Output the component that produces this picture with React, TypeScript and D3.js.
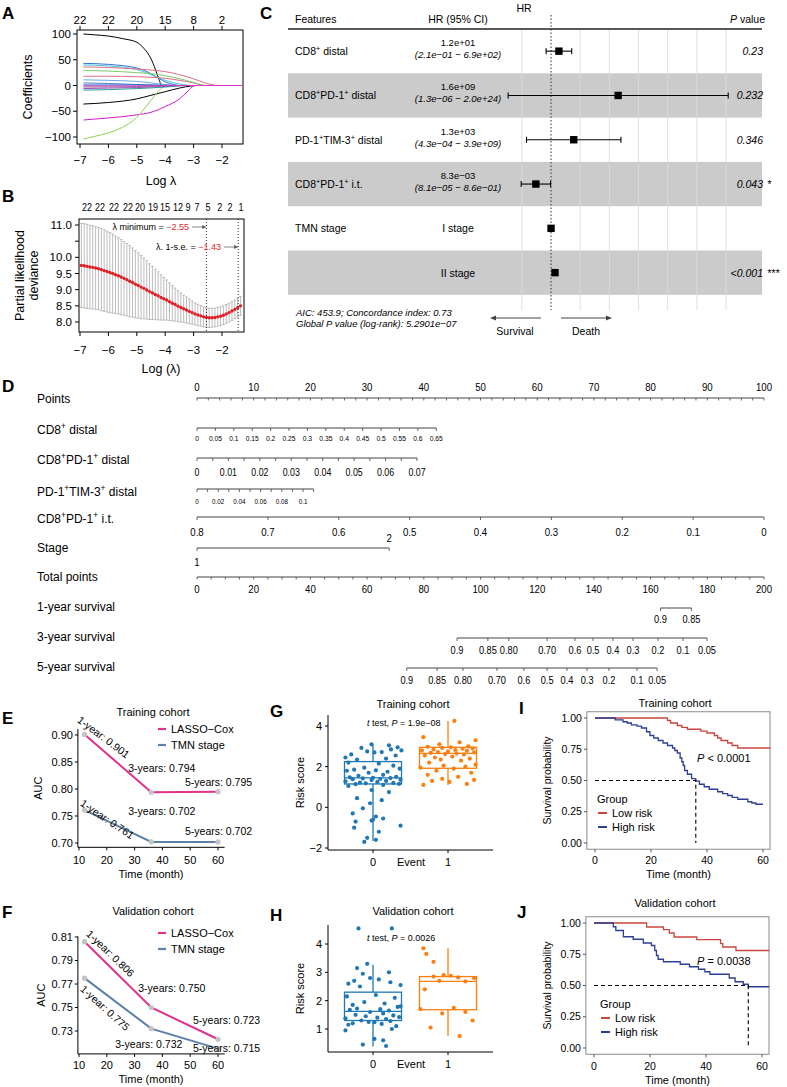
import React from "react";
import * as d3 from "d3";

const FONT = "'Liberation Sans', Arial, Helvetica, sans-serif";

// ---------------- Panel A data ----------------
const coefTopDf = ["22", "22", "20", "15", "8", "2"];
const coefTopAt = [-7, -6, -5, -4, -3, -2];
const coefXTicks = [-7, -6, -5, -4, -3, -2];
const coefYTicks = [100, 50, 0, -50, -100];
const coefColors = ["#000000", "#000000", "#d21ed2", "#8fd14f", "#3b6fd4", "#3fc6e0", "#d9737f", "#e06a8a", "#7cc96a", "#6fa8e8", "#4d7fc4", "#8a8a8a", "#9b4fbf", "#2aa198", "#1d5fd0", "#e033c0"];
const coefPaths = [
  [[-6.88, 100], [-6.5, 98.5], [-6, 96], [-5.5, 91], [-5, 84], [-4.75, 72], [-4.5, 52], [-4.35, 32], [-4.22, 12], [-4.12, 0], [-1.3, 0]],
  [[-6.88, -36], [-6, -33], [-5, -26], [-4.5, -19], [-4, -12], [-3.5, -5], [-3.1, -1], [-2.95, 0], [-1.3, 0]],
  [[-6.88, -67], [-6, -63], [-5, -57], [-4.5, -52], [-4, -41], [-3.5, -26], [-3.2, -11], [-3.0, -1], [-2.9, 0], [-1.3, 0]],
  [[-6.88, -104], [-6.5, -99], [-6, -92], [-5.5, -81], [-5, -62], [-4.75, -46], [-4.5, -29], [-4.25, -12], [-4.05, -2], [-3.95, 0], [-1.3, 0]],
  [[-6.88, 43], [-6, 41], [-5, 34], [-4.5, 23], [-4.2, 13], [-4, 7], [-3.7, 2], [-3.5, 0], [-1.3, 0]],
  [[-6.88, 40], [-6, 38], [-5, 31], [-4.5, 21], [-4, 10], [-3.5, 3], [-3.2, 0.5], [-3, 0], [-1.3, 0]],
  [[-6.88, 36], [-6, 35], [-5, 32], [-4.5, 30], [-4, 27], [-3.5, 21], [-3, 13], [-2.6, 5], [-2.3, 1], [-2.1, 0], [-1.3, 0]],
  [[-6.88, 18], [-6, 18], [-5, 17], [-4.5, 16], [-4, 14], [-3.5, 10], [-3, 5], [-2.7, 1], [-2.6, 0], [-1.3, 0]],
  [[-6.88, 29], [-6, 28], [-5, 25], [-4.5, 23], [-4, 19], [-3.5, 13], [-3, 6], [-2.7, 1], [-2.6, 0], [-1.3, 0]],
  [[-6.88, 11], [-6, 10], [-5, 8], [-4.5, 5], [-4, 2], [-3.6, 0], [-1.3, 0]],
  [[-6.88, 5], [-6, 4], [-5, 2], [-4.5, 1], [-4, 0], [-1.3, 0]],
  [[-6.88, -3], [-6, -3], [-5, -2], [-4, -1], [-3.5, 0], [-1.3, 0]],
  [[-6.88, -6], [-6, -5], [-5, -4], [-4, -2], [-3.2, 0], [-1.3, 0]],
  [[-6.88, -9], [-6, -8], [-5, -6], [-4, -3], [-3.3, 0], [-1.3, 0]],
  [[-6.88, 1], [-6, 1], [-5, 1], [-4, 0.5], [-3.5, 0], [-1.3, 0]],
  [[-6.88, -1], [-6, -1], [-5, -1], [-4, -0.5], [-3.4, 0], [-1.3, 0]],
];

// ---------------- Panel B data ----------------
const cvTopDf = ["22", "22", "22", "22", "20", "19", "15", "12", "9", "7", "5", "2", "2", "1"];
const cvTopAt = [-6.75, -6.30, -5.80, -5.31, -4.89, -4.43, -4.01, -3.55, -3.20, -2.88, -2.49, -2.08, -1.72, -1.33];
const cvXTicks = [-7, -6, -5, -4, -3, -2];
const cvYTicks = [8.0, 8.5, 9.0, 9.5, 10.0, 10.5, 11.0];
const cvYLabels = ["8.0", "8.5", "9.0", "9.5", "10.0", "", "11.0"];
const cvLambda = [-6.95, -6.85, -6.75, -6.65, -6.55, -6.45, -6.35, -6.25, -6.15, -6.05, -5.95, -5.85, -5.75, -5.65, -5.55, -5.45, -5.35, -5.25, -5.15, -5.05, -4.95, -4.85, -4.75, -4.65, -4.55, -4.45, -4.35, -4.25, -4.15, -4.05, -3.95, -3.85, -3.75, -3.65, -3.55, -3.45, -3.35, -3.25, -3.15, -3.05, -2.95, -2.85, -2.75, -2.65, -2.55, -2.45, -2.35, -2.25, -2.15, -2.05, -1.95, -1.85, -1.75, -1.65, -1.55, -1.45, -1.35];
const cvMean = [9.75, 9.74, 9.72, 9.70, 9.69, 9.67, 9.65, 9.62, 9.59, 9.56, 9.53, 9.50, 9.46, 9.43, 9.39, 9.35, 9.31, 9.26, 9.22, 9.17, 9.13, 9.08, 9.04, 8.99, 8.94, 8.90, 8.85, 8.81, 8.76, 8.72, 8.68, 8.63, 8.58, 8.54, 8.49, 8.45, 8.41, 8.37, 8.33, 8.29, 8.25, 8.22, 8.19, 8.16, 8.14, 8.13, 8.13, 8.14, 8.16, 8.18, 8.21, 8.25, 8.29, 8.34, 8.39, 8.44, 8.50];
const cvSd = [1.30, 1.30, 1.30, 1.29, 1.29, 1.28, 1.27, 1.27, 1.26, 1.25, 1.24, 1.22, 1.20, 1.18, 1.16, 1.14, 1.12, 1.10, 1.07, 1.04, 1.01, 0.98, 0.94, 0.90, 0.86, 0.82, 0.78, 0.74, 0.70, 0.66, 0.62, 0.58, 0.55, 0.51, 0.48, 0.45, 0.42, 0.40, 0.38, 0.36, 0.34, 0.33, 0.32, 0.31, 0.30, 0.30, 0.29, 0.29, 0.29, 0.29, 0.29, 0.29, 0.29, 0.29, 0.29, 0.29, 0.29];
const cvLambdaMin = -2.55;
const cvLambda1se = -1.43;

// ---------------- Panel C data ----------------
const forestFeatures = ["CD8⁺ distal", "CD8⁺PD-1⁺ distal", "PD-1⁺TIM-3⁺ distal", "CD8⁺PD-1⁺ i.t.", "TMN stage", ""];
const forestHrText = ["1.2e+01", "1.6e+09", "1.3e+03", "8.3e−03", "", ""];
const forestCiText = ["(2.1e−01 − 6.9e+02)", "(1.3e−06 − 2.0e+24)", "(4.3e−04 − 3.9e+09)", "(8.1e−05 − 8.6e−01)", "", ""];
const forestLevel = ["", "", "", "", "I stage", "II stage"];
const forestHr = [12, 1.6e9, 1.3e3, 8.3e-3, 1, 3.5];
const forestLo = [0.21, 1.3e-6, 4.3e-4, 8.1e-5, 1, 2.4];
const forestHi = [690, 2.0e24, 3.9e9, 0.86, 1, 5.0];
const forestP = ["0.23", "0.232", "0.346", "0.043", "", "<0.001"];
const forestStars = ["", "", "", "*", "", "***"];
const forestGrid = [1e-4, 1e4, 1e8, 1e12, 1e16, 1e20, 1e24];

// ---------------- Panel D data ----------------
const nomoRowNames = ["Points", "CD8⁺ distal", "CD8⁺PD-1⁺ distal", "PD-1⁺TIM-3⁺ distal", "CD8⁺PD-1⁺ i.t.", "Stage", "Total points", "1-year survival", "3-year survival", "5-year survival"];
const pointsLabels = [0, 10, 20, 30, 40, 50, 60, 70, 80, 90, 100];
const pointsMinor = [0, 2, 4, 6, 8, 10, 12, 14, 16, 18, 20, 22, 24, 26, 28, 30, 32, 34, 36, 38, 40, 42, 44, 46, 48, 50, 52, 54, 56, 58, 60, 62, 64, 66, 68, 70, 72, 74, 76, 78, 80, 82, 84, 86, 88, 90, 92, 94, 96, 98, 100];
const cd8DistalVals = [0, 0.05, 0.1, 0.15, 0.2, 0.25, 0.3, 0.35, 0.4, 0.45, 0.5, 0.55, 0.6, 0.65];
const cd8DistalLabels = ["0", "0.05", "0.1", "0.15", "0.2", "0.25", "0.3", "0.35", "0.4", "0.45", "0.5", "0.55", "0.6", "0.65"];
const cd8DistalPointsAtMax = 42.2;
const cd8pd1DistalVals = [0, 0.01, 0.02, 0.03, 0.04, 0.05, 0.06, 0.07];
const cd8pd1DistalMinor = [0, 0.005, 0.01, 0.015, 0.02, 0.025, 0.03, 0.035, 0.04, 0.045, 0.05, 0.055, 0.06, 0.065, 0.07];
const cd8pd1DistalLabels = ["0", "0.01", "0.02", "0.03", "0.04", "0.05", "0.06", "0.07"];
const cd8pd1DistalPointsAtMax = 38.8;
const pd1tim3Vals = [0, 0.02, 0.04, 0.06, 0.08, 0.1];
const pd1tim3Minor = [0, 0.01, 0.02, 0.03, 0.04, 0.05, 0.06, 0.07, 0.08, 0.09, 0.1, 0.11];
const pd1tim3Labels = ["0", "0.02", "0.04", "0.06", "0.08", "0.1"];
const pd1tim3PointsAt01 = 18.7;
const itVals = [0.8, 0.7, 0.6, 0.5, 0.4, 0.3, 0.2, 0.1, 0];
const itLabels = ["0.8", "0.7", "0.6", "0.5", "0.4", "0.3", "0.2", "0.1", "0"];
const stageLevels = ["1", "2"];
const stagePoints = [0, 33.9];
const totalLabels = [0, 20, 40, 60, 80, 100, 120, 140, 160, 180, 200];
const totalMinor = [0, 5, 10, 15, 20, 25, 30, 35, 40, 45, 50, 55, 60, 65, 70, 75, 80, 85, 90, 95, 100, 105, 110, 115, 120, 125, 130, 135, 140, 145, 150, 155, 160, 165, 170, 175, 180, 185, 190, 195, 200];
const surv1Labels = ["0.9", "0.85"];
const surv1At = [163.5, 174.4];
const survLabels = ["0.9", "0.85", "0.80", "0.70", "0.6", "0.5", "0.4", "0.3", "0.2", "0.1", "0.05"];
const surv3At = [91.7, 102.6, 110.0, 123.5, 133.3, 139.7, 146.7, 153.8, 162.6, 171.4, 179.9];
const surv5At = [74.0, 84.7, 93.8, 105.8, 115.3, 123.5, 130.5, 137.6, 145.3, 155.2, 162.3];

// ---------------- Panels E/F data ----------------
const aucTimes = [12, 36, 60];
const aucYearNames = ["1-year", "3-years", "5-years"];
const aucLassoTrain = [0.901, 0.794, 0.795];
const aucTmnTrain = [0.761, 0.702, 0.702];
const aucLassoValid = [0.806, 0.750, 0.723];
const aucTmnValid = [0.775, 0.732, 0.715];
const aucXTicks = [10, 20, 30, 40, 50, 60];
const aucTrainYTicks = [0.70, 0.75, 0.80, 0.85, 0.90];
const aucValidYTicks = [0.73, 0.75, 0.77, 0.79, 0.81];
const aucSeries = ["LASSO−Cox", "TMN stage"];

// ---------------- Panels G/H data ----------------
const riskGroups = ["0", "1"];
const riskTrain0 = [[3.10, -0.05], [3.05, 0.55], [2.95, 0.85], [2.92, -0.4], [2.85, 0.62], [2.8, 0.98], [2.75, -0.2], [2.72, 0.3], [2.7, 0.05], [2.6, -0.75], [2.55, 0.78], [2.45, -0.95], [2.4, 0.45], [2.35, -0.55], [2.2, -0.85], [2.15, 0.2], [2.05, 0.7], [1.95, -0.3], [1.9, 0.92], [1.85, -0.65], [1.82, 0.1], [1.8, -0.9], [1.75, 0.5], [1.7, -0.15], [1.6, 0.35], [1.55, -0.5], [1.5, 0.8], [1.48, -0.8], [1.45, 0.0], [1.44, 0.6], [1.42, -0.35], [1.4, 0.25], [1.38, -0.7], [1.36, 0.95], [1.34, -0.05], [1.3, 0.45], [1.28, -0.95], [1.25, 0.15], [1.22, -0.45], [1.2, 0.7], [1.18, -0.25], [1.15, 0.9], [1.14, -0.6], [1.1, 0.35], [1.05, -0.85], [0.85, -0.05], [0.75, 0.55], [0.45, -0.55], [0.35, 0.3], [0.2, -0.1], [-0.05, -0.35], [-0.3, -0.7], [-0.45, 0.1], [-0.55, 0.35], [-0.6, 0.0], [-0.65, -0.05], [-0.7, -0.6], [-0.9, 0.95], [-1.0, -0.65], [-1.2, 0.2], [-1.5, -0.2], [-1.6, 0.1], [-1.7, -0.3]];
const riskTrain1 = [[4.25, 0.22], [3.45, -0.85], [3.3, 0.95], [3.2, 0.4], [3.1, -0.3], [3.0, 0.7], [2.98, -0.7], [2.95, 0.1], [2.92, -0.2], [2.9, 0.85], [2.88, 0.5], [2.85, -0.5], [2.82, 0.25], [2.8, -0.9], [2.78, 0.65], [2.75, 0.0], [2.72, -0.35], [2.7, 0.9], [2.68, -0.6], [2.65, 0.3], [2.62, -0.1], [2.6, 0.55], [2.55, -0.8], [2.5, 0.15], [2.45, -0.45], [2.4, 0.75], [2.35, -0.25], [2.3, 0.45], [2.2, -0.65], [2.1, 0.95], [2.05, -0.15], [2.0, 0.6], [1.95, -0.95], [1.9, 0.2], [1.8, -0.4], [1.7, 0.8], [1.6, -0.7], [1.5, 0.35], [1.4, -0.2], [1.35, 0.9], [1.3, -0.55], [1.25, 0.05], [1.15, 0.65], [1.1, -0.85]];
const riskValid0 = [[4.55, -0.5], [4.55, 0.65], [3.3, -0.2], [3.15, -0.55], [3.0, 0.55], [2.95, -0.35], [2.8, -0.1], [2.75, 0.2], [2.7, -0.65], [2.65, 0.6], [2.6, -0.85], [2.55, 0.95], [2.5, -0.45], [2.2, 0.1], [2.15, -0.9], [2.1, 0.75], [1.95, -0.3], [1.9, 0.4], [1.85, -0.7], [1.8, 0.95], [1.78, 0.85], [1.72, -0.55], [1.7, 0.25], [1.68, -0.8], [1.65, 0.55], [1.6, -0.1], [1.55, 0.35], [1.5, -0.6], [1.48, 0.7], [1.45, -0.25], [1.42, 0.9], [1.4, 0.15], [1.38, -0.95], [1.35, 0.45], [1.3, -0.4], [1.28, 0.6], [1.25, -0.15], [1.24, 0.05], [1.2, -0.7], [1.18, 0.3], [1.15, -0.85], [1.1, 0.8], [1.0, 0.65], [0.95, -0.95], [0.65, 0.05], [0.6, 0.35], [0.45, -0.35], [0.4, 0.45]];
const riskValid1 = [[3.85, -0.85], [3.65, -0.75], [3.37, -0.5], [2.9, -0.15], [2.88, 0.1], [2.85, -0.5], [2.82, 0.35], [2.8, 0.9], [2.7, -0.3], [2.68, 0.6], [2.4, -0.8], [1.75, 0.2], [1.7, -0.95], [1.6, 0.6], [1.55, -0.2], [1.3, 0.85], [1.05, -0.6], [0.75, 0.4]];
// box stats: [whiskerLow, q1, median, q3, whiskerHigh]
const boxTrain = [[-1.65, 1.15, 1.45, 2.25, 3.05], [1.1, 1.92, 2.65, 2.95, 4.25]];
const boxValid = [[0.38, 1.3, 1.62, 2.3, 3.27], [0.75, 1.68, 2.68, 2.85, 3.85]];
const riskTrainYTicks = [-2, 0, 2, 4];
const riskValidYTicks = [1, 2, 3, 4];

// ---------------- Panels I/J data ----------------
const kmTrainLow = [[0, 1], [25.9, 0.98], [27, 0.96], [29.4, 0.94], [31, 0.925], [33, 0.91], [37.8, 0.895], [40, 0.88], [42.6, 0.86], [43.8, 0.84], [45, 0.82], [47.4, 0.8], [49, 0.78], [51, 0.76], [62.6, 0.76]];
const kmTrainHigh = [[0, 1], [7.2, 0.985], [10, 0.97], [11.5, 0.96], [13, 0.945], [15, 0.935], [16.6, 0.92], [18.4, 0.89], [19.6, 0.86], [21, 0.84], [22.6, 0.82], [24.3, 0.8], [25.9, 0.78], [27.7, 0.76], [28.5, 0.74], [29.4, 0.72], [30.4, 0.68], [31, 0.65], [31.5, 0.62], [32, 0.58], [33, 0.55], [34.5, 0.515], [36, 0.495], [37.3, 0.47], [39, 0.45], [40.8, 0.43], [43.8, 0.41], [45.6, 0.395], [47.4, 0.38], [49, 0.365], [51, 0.35], [54.6, 0.33], [56, 0.32], [57.5, 0.31], [60, 0.31]];
const kmValidLow = [[0, 1], [18.8, 0.968], [24.8, 0.947], [26.9, 0.92], [28.6, 0.888], [36.7, 0.867], [45.2, 0.835], [46, 0.808], [50.7, 0.78], [62.6, 0.78]];
const kmValidHigh = [[0, 1], [6.9, 0.97], [7.8, 0.94], [10.5, 0.89], [14, 0.87], [17.6, 0.84], [20.5, 0.82], [21.7, 0.78], [22.3, 0.74], [22.9, 0.71], [24.8, 0.69], [30.8, 0.67], [34.1, 0.65], [37.3, 0.63], [39.6, 0.61], [41.4, 0.59], [48.3, 0.56], [50.4, 0.53], [53.3, 0.51], [55.1, 0.49], [62.6, 0.49]];
const kmTrainMedian = 36;
const kmValidMedian = 55.1;
const kmXTicks = [0, 20, 40, 60];
const kmYTicks = [0, 0.25, 0.5, 0.75, 1];
const kmGroups = ["Low risk", "High risk"];

// ---------------- helpers ----------------
const minus = (s: string) => s.replace(/-/g, "−");

function sup(s: string, fs: number) {
  const parts = s.split("⁺");
  const out: any[] = [];
  parts.forEach((p, i) => {
    if (i > 0) out.push(<tspan key={"s" + i} dy={-fs * 0.38} fontSize={fs * 0.7}>+</tspan>);
    if (p.length) out.push(<tspan key={"p" + i} dy={i > 0 ? fs * 0.38 : 0} fontSize={fs}>{p}</tspan>);
  });
  return out;
}

// ---------------- Panel A ----------------
function PanelA() {
  const x = d3.scaleLinear().domain([-7, -2]).range([80, 222]);
  const y = d3.scaleLinear().domain([-100, 100]).range([137, 34]);
  const L = 77, R = 243, T = 30, B = 144;
  const line = d3.line<any>().x((d: any) => x(d[0])).y((d: any) => y(d[1])).curve(d3.curveMonotoneX);
  return (
    <g>
      <clipPath id="clipA"><rect x={L} y={T} width={R - L} height={B - T} /></clipPath>
      <g clipPath="url(#clipA)">
        {coefPaths.map((p, i) => <path key={i} d={line(p as any) || ""} fill="none" stroke={coefColors[i]} strokeWidth={1} />)}
      </g>
      <rect x={L} y={T} width={R - L} height={B - T} fill="none" stroke="#000" strokeWidth={1} />
      {coefYTicks.map(v => (
        <g key={v}>
          <line x1={L - 4} x2={L} y1={y(v)} y2={y(v)} stroke="#000" />
          <text x={L - 6} y={y(v)} dy="0.35em" textAnchor="end" fontSize={11.5}>{minus(String(v))}</text>
        </g>
      ))}
      {coefXTicks.map(v => (
        <g key={v}>
          <line x1={x(v)} x2={x(v)} y1={B} y2={B + 4} stroke="#000" />
          <text x={x(v)} y={B + 16} dy="0.35em" textAnchor="middle" fontSize={11.5}>{minus(String(v))}</text>
        </g>
      ))}
      {coefTopAt.map((v, i) => (
        <g key={i}>
          <line x1={x(v)} x2={x(v)} y1={T} y2={T - 4} stroke="#000" />
          <text x={x(v)} y={T - 10} dy="0.35em" textAnchor="middle" fontSize={11.5}>{coefTopDf[i]}</text>
        </g>
      ))}
      <text transform={`translate(28,${(T + B) / 2}) rotate(-90)`} textAnchor="middle" dy="0.35em" fontSize={12.5}>Coefficients</text>
      <text x={161} y={181} dy="0.35em" textAnchor="middle" fontSize={12.5}>Log λ</text>
    </g>
  );
}

// ---------------- Panel B ----------------
function PanelB() {
  const x = d3.scaleLinear().domain([-7, -2]).range([80, 222]);
  const y = d3.scaleLinear().domain([8, 11]).range([322, 225]);
  const L = 79, R = 244, T = 219, B = 332;
  const red = "#e01f26";
  return (
    <g>
      {cvLambda.map((l, i) => {
        const xx = x(l);
        const y1 = y(cvMean[i] + cvSd[i]);
        const y2 = y(cvMean[i] - cvSd[i]);
        return (
          <g key={i} stroke="#b4b4b4" strokeWidth={0.9}>
            <line x1={xx} x2={xx} y1={y1} y2={y2} />
            <line x1={xx - 1.4} x2={xx + 1.4} y1={y1} y2={y1} />
            <line x1={xx - 1.4} x2={xx + 1.4} y1={y2} y2={y2} />
          </g>
        );
      })}
      {cvLambda.map((l, i) => <circle key={i} cx={x(l)} cy={y(cvMean[i])} r={1.7} fill={red} />)}
      {[cvLambdaMin, cvLambda1se].map((v, i) => (
        <line key={i} x1={x(v)} x2={x(v)} y1={T} y2={B} stroke="#333" strokeDasharray="1,2" strokeWidth={1} />
      ))}
      <rect x={L} y={T} width={R - L} height={B - T} fill="none" stroke="#000" />
      {cvYTicks.map((v, i) => (
        <g key={i}>
          <line x1={L - 4} x2={L} y1={y(v)} y2={y(v)} stroke="#000" />
          <text x={L - 7} y={y(v)} dy="0.35em" textAnchor="end" fontSize={11.5}>{cvYLabels[i]}</text>
        </g>
      ))}
      {cvXTicks.map(v => (
        <g key={v}>
          <line x1={x(v)} x2={x(v)} y1={B} y2={B + 4} stroke="#000" />
          <text x={x(v)} y={B + 18} dy="0.35em" textAnchor="middle" fontSize={11.5}>{minus(String(v))}</text>
        </g>
      ))}
      {cvTopAt.map((v, i) => (
        <text key={i} transform={`translate(${x(v)},207) scale(0.9,1)`} dy="0.35em" textAnchor="middle" fontSize={10}>{cvTopDf[i]}</text>
      ))}
      <text x={189} y={227} dy="0.35em" textAnchor="end" fontSize={9}>λ minimum = <tspan fill={red}>{minus(String(cvLambdaMin))}</tspan></text>
      <line x1={192} x2={x(cvLambdaMin) - 3} y1={227} y2={227} stroke="#888" strokeWidth={1} />
      <path d={`M${x(cvLambdaMin)},227 l-4,-2 l0,4 z`} fill="#555" />
      <text x={221} y={247} dy="0.35em" textAnchor="end" fontSize={9}>λ. 1-s.e. = <tspan fill={red}>{minus(String(cvLambda1se))}</tspan></text>
      <line x1={224} x2={x(cvLambda1se) - 3} y1={247} y2={247} stroke="#888" strokeWidth={1} />
      <path d={`M${x(cvLambda1se)},247 l-4,-2 l0,4 z`} fill="#555" />
      <text transform={`translate(20,${(T + B) / 2}) rotate(-90)`} textAnchor="middle" dy="0.35em" fontSize={12.5}>Partial likelihood</text>
      <text transform={`translate(34,${(T + B) / 2}) rotate(-90)`} textAnchor="middle" dy="0.35em" fontSize={12.5}>deviance</text>
      <text x={161} y={369} dy="0.35em" textAnchor="middle" fontSize={12.5}>Log (λ)</text>
    </g>
  );
}

// ---------------- Panel C ----------------
function PanelC() {
  const x = d3.scaleLog().domain([1e-6, 1e24]).range([507.3, 726]);
  const rowH = 44.3;
  const top0 = 29;
  const L = 288, R = 762;
  const fs = 10.5;
  return (
    <g>
      {forestFeatures.map((f, i) => i % 2 === 1 ? <rect key={i} x={L} y={top0 + i * rowH} width={R - L} height={rowH} fill="#cbcbcb" /> : null)}
      {forestGrid.map(v => <line key={v} x1={x(v)} x2={x(v)} y1={top0} y2={310} stroke="#dcdcdc" strokeWidth={0.9} />)}
      <line x1={x(1)} x2={x(1)} y1={15} y2={310} stroke="#333" strokeDasharray="1.5,2" strokeWidth={1} />
      <line x1={L} x2={R} y1={top0} y2={top0} stroke="#222" strokeWidth={1.3} />
      <text x={295} y={23} fontSize={fs}>Features</text>
      <text x={458} y={23} fontSize={fs} textAnchor="middle">HR (95% CI)</text>
      <text x={524} y={12} fontSize={fs} textAnchor="middle">HR</text>
      <text x={765} y={23} fontSize={fs} textAnchor="end"><tspan fontStyle="italic">P</tspan> value</text>
      {forestFeatures.map((f, i) => {
        const cy = top0 + i * rowH + rowH / 2;
        const hasCi = forestCiText[i] !== "";
        return (
          <g key={i}>
            {f && <text x={295} y={cy + 4} fontSize={fs}>{sup(f, fs)}</text>}
            {hasCi && <text x={458} y={cy - 5} fontSize={9.5} textAnchor="middle">{forestHrText[i]}</text>}
            {hasCi && <text x={458} y={cy + 7} fontSize={9.5} textAnchor="middle" fontStyle="italic">{forestCiText[i]}</text>}
            {forestLevel[i] && <text x={458} y={cy + 4} fontSize={fs} textAnchor="middle">{forestLevel[i]}</text>}
            {forestLo[i] !== forestHi[i] && (
              <g stroke="#000" strokeWidth={1.1}>
                <line x1={x(forestLo[i])} x2={x(forestHi[i])} y1={cy} y2={cy} />
                <line x1={x(forestLo[i])} x2={x(forestLo[i])} y1={cy - 3} y2={cy + 3} />
                <line x1={x(forestHi[i])} x2={x(forestHi[i])} y1={cy - 3} y2={cy + 3} />
              </g>
            )}
            <rect x={x(forestHr[i]) - 3.7} y={cy - 3.7} width={7.4} height={7.4} fill="#000" />
            {forestP[i] && <text x={763} y={cy + 4} fontSize={fs} textAnchor="end" fontStyle="italic">{forestP[i]}</text>}
            {forestStars[i] && <text x={767} y={cy + 4} fontSize={fs} fontStyle="italic">{forestStars[i]}</text>}
          </g>
        );
      })}
      <text x={296} y={316} fontSize={9.5} fontStyle="italic">AIC: 453.9; Concordance index: 0.73</text>
      <text x={296} y={327} fontSize={9.5} fontStyle="italic">Global P value (log-rank): 5.2901e−07</text>
      <line x1={541} x2={494} y1={318} y2={318} stroke="#444" strokeWidth={1.2} />
      <path d="M490,318 l6,-2.5 l0,5 z" fill="#444" />
      <line x1={561} x2={608} y1={318} y2={318} stroke="#444" strokeWidth={1.2} />
      <path d="M612,318 l-6,-2.5 l0,5 z" fill="#444" />
      <text x={515} y={335} fontSize={10.5} textAnchor="middle">Survival</text>
      <text x={586} y={335} fontSize={10.5} textAnchor="middle">Death</text>
    </g>
  );
}

// ---------------- Panel D ----------------
function nomoAxis(key: string, y: number, x0: number, x1: number, tickXs: number[], labels: { x: number; t: string }[], labelY: number, fs: number, tickLen = 3) {
  return (
    <g key={key}>
      <line x1={x0} x2={x1} y1={y} y2={y} stroke="#444" strokeWidth={1} />
      {tickXs.map((tx, i) => <line key={i} x1={tx} x2={tx} y1={y} y2={y + tickLen} stroke="#444" strokeWidth={0.8} />)}
      {labels.map((l, i) => (
        <text key={"l" + i} transform={`translate(${l.x},${labelY}) scale(0.84,1)`} textAnchor="middle" fontSize={fs}>{l.t}</text>
      ))}
    </g>
  );
}

function PanelD() {
  const px = d3.scaleLinear().domain([0, 100]).range([197, 764]);
  const tx = d3.scaleLinear().domain([0, 200]).range([197, 764]);
  const cd8 = d3.scaleLinear().domain([0, 0.65]).range([px(0), px(cd8DistalPointsAtMax)]);
  const cd8pd1 = d3.scaleLinear().domain([0, 0.07]).range([px(0), px(cd8pd1DistalPointsAtMax)]);
  const pt = d3.scaleLinear().domain([0, 0.1]).range([px(0), px(pd1tim3PointsAt01)]);
  const it = d3.scaleLinear().domain([0.8, 0]).range([px(0), px(100)]);
  const st = d3.scaleOrdinal<string, number>().domain(stageLevels).range(stagePoints.map(p => px(p)));
  const rowY = [399, 430, 460, 492, 519, 548, 577, 607, 637, 667];
  return (
    <g>
      {nomoRowNames.map((n, i) => <text key={i} x={37} y={rowY[i] + 4} fontSize={12}>{sup(n, 12)}</text>)}
      {nomoAxis("pts", 398, px(0), px(100), pointsMinor.map(v => px(v)), pointsLabels.map(v => ({ x: px(v), t: String(v) })), 391, 11.5, 2.5)}
      {nomoAxis("cd8", 428, cd8(0), cd8(0.65), cd8DistalVals.map(v => cd8(v)), cd8DistalVals.map((v, i) => ({ x: cd8(v), t: cd8DistalLabels[i] })), 441, 8)}
      {nomoAxis("cd8pd1", 458, cd8pd1(0), cd8pd1(0.07), cd8pd1DistalMinor.map(v => cd8pd1(v)), cd8pd1DistalVals.map((v, i) => ({ x: cd8pd1(v), t: cd8pd1DistalLabels[i] })), 475.5, 10.5)}
      {nomoAxis("pt", 489, pt(0), pt(0.11), pd1tim3Minor.map(v => pt(v)), pd1tim3Vals.map((v, i) => ({ x: pt(v), t: pd1tim3Labels[i] })), 503.5, 7.5)}
      {nomoAxis("it", 517, it(0.8), it(0), itVals.map(v => it(v)), itVals.map((v, i) => ({ x: it(v), t: itLabels[i] })), 536, 11.5)}
      {nomoAxis("st", 548, st("1"), st("2"), stageLevels.map(v => st(v)), [], 0, 11)}
      <text transform={`translate(${st("2")},542) scale(0.84,1)`} textAnchor="middle" fontSize={11.5}>{stageLevels[1]}</text>
      <text transform={`translate(${st("1")},566) scale(0.84,1)`} textAnchor="middle" fontSize={11.5}>{stageLevels[0]}</text>
      {nomoAxis("tot", 577, tx(0), tx(200), totalMinor.map(v => tx(v)), totalLabels.map(v => ({ x: tx(v), t: String(v) })), 593, 11.5, 2.5)}
      {nomoAxis("s1", 608, tx(surv1At[0]), tx(surv1At[surv1At.length - 1]), surv1At.map(v => tx(v)), surv1At.map((v, i) => ({ x: tx(v), t: surv1Labels[i] })), 623, 11)}
      {nomoAxis("s3", 638, tx(surv3At[0]), tx(surv3At[surv3At.length - 1]), surv3At.map(v => tx(v)), surv3At.map((v, i) => ({ x: tx(v), t: survLabels[i] })), 654, 11)}
      {nomoAxis("s5", 668, tx(surv5At[0]), tx(surv5At[surv5At.length - 1]), surv5At.map(v => tx(v)), surv5At.map((v, i) => ({ x: tx(v), t: survLabels[i] })), 684, 11)}
    </g>
  );
}

// ---------------- Panels E/F ----------------
function PanelAUC(props: any) {
  const { title, titleY, yTicks, yDom, yRange, axisDom, lasso, tmn, lassoOff, tmnOff, legendY, tickY, timeY, aucX } = props;
  const x = d3.scaleLinear().domain([10, 60]).range([79, 218]);
  const y = d3.scaleLinear().domain(yDom).range(yRange);
  const xL = x(9.6), xR = x(62.4);
  const yB = y(axisDom[0]), yT = y(axisDom[1]);
  const line = d3.line<number>().x((d, i) => x(aucTimes[i])).y(d => y(d));
  const pink = "#e2328c", steel = "#5b80aa";
  const labels = (vals: number[], offs: any[]) => vals.map((v, i) => {
    const o = offs[i];
    const ax = x(aucTimes[i]) + o.dx, ay = y(v) + o.dy;
    return <text key={i} x={ax} y={ay} fontSize={10.5} transform={o.rot ? `rotate(${o.rot},${ax},${ay})` : undefined}>{`${aucYearNames[i]}: ${v.toFixed(3)}`}</text>;
  });
  return (
    <g>
      <text x={153} y={titleY} textAnchor="middle" fontSize={11}>{title}</text>
      <line x1={xL} x2={xL} y1={yT} y2={yB} stroke="#000" />
      <line x1={xL} x2={xR} y1={yB} y2={yB} stroke="#000" />
      {yTicks.map((v: number) => (
        <g key={v}>
          <line x1={xL - 3} x2={xL} y1={y(v)} y2={y(v)} stroke="#000" />
          <text x={xL - 5} y={y(v)} dy="0.35em" textAnchor="end" fontSize={11}>{v.toFixed(2)}</text>
        </g>
      ))}
      {aucXTicks.map(v => (
        <g key={v}>
          <line x1={x(v)} x2={x(v)} y1={yB} y2={yB + 3} stroke="#000" />
          <text x={x(v)} y={tickY} dy="0.35em" textAnchor="middle" fontSize={11}>{v}</text>
        </g>
      ))}
      <text x={151} y={timeY} dy="0.35em" textAnchor="middle" fontSize={11}>Time (month)</text>
      <text transform={`translate(${aucX},${(yT + yB) / 2}) rotate(-90)`} textAnchor="middle" dy="0.35em" fontSize={11}>AUC</text>
      <path d={line(lasso) || ""} fill="none" stroke={pink} strokeWidth={2} />
      <path d={line(tmn) || ""} fill="none" stroke={steel} strokeWidth={2} />
      {[...lasso, ...tmn].map((v: number, i: number) => <circle key={i} cx={x(aucTimes[i % 3])} cy={y(v)} r={2.6} fill="#c4c4c4" />)}
      {labels(lasso, lassoOff)}
      {labels(tmn, tmnOff)}
      {[pink, steel].map((c, i) => (
        <g key={i}>
          <line x1={158} x2={166} y1={legendY + i * 16} y2={legendY + i * 16} stroke={c} strokeWidth={2.2} />
          <text x={171} y={legendY + i * 16} dy="0.35em" fontSize={11}>{aucSeries[i]}</text>
        </g>
      ))}
    </g>
  );
}

// ---------------- Panels G/H ----------------
function PanelBox(props: any) {
  const { title, titleY, yDom, yRange, axisTop, axisBottom, yTicks, g0, g1, boxes, testText, testY, tickY } = props;
  const x = d3.scalePoint().domain(riskGroups).range([328, 493]).padding(0.6);
  const y = d3.scaleLinear().domain(yDom).range(yRange);
  const colors = ["#1f77b4", "#ff7f0e"];
  const half = 28.5;
  const yB = axisBottom, yT = axisTop;
  return (
    <g>
      <text x={413} y={titleY} textAnchor="middle" fontSize={11}>{title}</text>
      {boxes.map((b: number[], i: number) => {
        const cx = x(riskGroups[i]) as number;
        return (
          <g key={i} stroke={colors[i]} strokeWidth={1.3} fill="none">
            <line x1={cx} x2={cx} y1={y(b[0])} y2={y(b[1])} />
            <line x1={cx} x2={cx} y1={y(b[3])} y2={y(b[4])} />
            <rect x={cx - half} y={y(b[3])} width={2 * half} height={y(b[1]) - y(b[3])} fill="#fff" fillOpacity={0} />
            <line x1={cx - half} x2={cx + half} y1={y(b[2])} y2={y(b[2])} />
          </g>
        );
      })}
      {[g0, g1].map((pts: number[][], gi: number) => pts.map((p, i) => (
        <circle key={gi + "-" + i} cx={(x(riskGroups[gi]) as number) + p[1] * 29} cy={y(p[0])} r={2.1} fill={colors[gi]} />
      )))}
      <line x1={328} x2={328} y1={yT} y2={yB} stroke="#000" />
      <line x1={328} x2={493} y1={yB} y2={yB} stroke="#000" />
      {yTicks.map((v: number) => (
        <g key={v}>
          <line x1={325} x2={328} y1={y(v)} y2={y(v)} stroke="#000" />
          <text x={322} y={y(v)} dy="0.35em" textAnchor="end" fontSize={11}>{minus(String(v))}</text>
        </g>
      ))}
      {riskGroups.map(g => (
        <g key={g}>
          <line x1={x(g) as number} x2={x(g) as number} y1={yB} y2={yB + 3} stroke="#000" />
          <text x={x(g) as number} y={tickY} dy="0.35em" textAnchor="middle" fontSize={11}>{g}</text>
        </g>
      ))}
      <text x={411} y={tickY} dy="0.35em" textAnchor="middle" fontSize={11}>Event</text>
      <text transform={`translate(300,${(yT + yB) / 2}) rotate(-90)`} textAnchor="middle" dy="0.35em" fontSize={11}>Risk score</text>
      <text x={367} y={testY} fontSize={9}><tspan fontStyle="italic">t</tspan> test, <tspan fontStyle="italic">P</tspan> = {testText}</text>
    </g>
  );
}

// ---------------- Panels I/J ----------------
function PanelKM(props: any) {
  const { title, titleY, x0, top, low, high, median, pText, pY, legendY, legendX, tickY, timeY } = props;
  const x = d3.scaleLinear().domain([0, 60]).range([x0, x0 + 168]);
  const y = d3.scaleLinear().domain([0, 1]).range([top + 125, top]);
  const L = x(-2.9), R = x(62.5), T = y(1.05), B = y(-0.05);
  const line = d3.line<any>().x((d: any) => x(d[0])).y((d: any) => y(d[1])).curve(d3.curveStepAfter);
  const red = "#c9463d", blue = "#2c3f93";
  return (
    <g>
      <text x={675} y={titleY} textAnchor="middle" fontSize={11}>{title}</text>
      <rect x={L} y={T} width={R - L} height={B - T} fill="none" stroke="#8a8a8a" strokeWidth={1} />
      <path d={line(low) || ""} fill="none" stroke={red} strokeWidth={1.3} />
      <path d={line(high) || ""} fill="none" stroke={blue} strokeWidth={1.3} />
      <path d={`M${x(0)},${y(0.5)}H${x(median)}V${y(0)}`} fill="none" stroke="#000" strokeWidth={1.1} strokeDasharray="4,3" />
      {kmYTicks.map(v => (
        <g key={v}>
          <line x1={L - 3} x2={L} y1={y(v)} y2={y(v)} stroke="#555" />
          <text x={L - 5} y={y(v)} dy="0.35em" textAnchor="end" fontSize={10.5}>{v.toFixed(2)}</text>
        </g>
      ))}
      {kmXTicks.map(v => (
        <g key={v}>
          <line x1={x(v)} x2={x(v)} y1={B} y2={B + 3} stroke="#555" />
          <text x={x(v)} y={tickY} dy="0.35em" textAnchor="middle" fontSize={10.5}>{v}</text>
        </g>
      ))}
      <text x={(L + R) / 2} y={timeY} dy="0.35em" textAnchor="middle" fontSize={11}>Time (month)</text>
      <text transform={`translate(547,${(T + B) / 2}) rotate(-90)`} textAnchor="middle" dy="0.35em" fontSize={10.5}>Survival probability</text>
      <text x={697} y={pY} dy="0.35em" fontSize={11}><tspan fontStyle="italic">P</tspan> {pText}</text>
      <text x={legendX} y={legendY} dy="0.35em" fontSize={11}>Group</text>
      {[red, blue].map((c, i) => (
        <g key={i}>
          <line x1={legendX + 1} x2={legendX + 10} y1={legendY + 14 + i * 14} y2={legendY + 14 + i * 14} stroke={c} strokeWidth={2} />
          <text x={legendX + 15} y={legendY + 14 + i * 14} dy="0.35em" fontSize={11}>{kmGroups[i]}</text>
        </g>
      ))}
    </g>
  );
}

function PanelLabels() {
  const labs = [["A", 2, 19], ["B", 2, 202], ["C", 260, 19], ["D", 2, 392], ["E", 2, 724], ["F", 2, 918], ["G", 270, 717], ["H", 270, 921], ["I", 519, 714], ["J", 517, 918]];
  return <g>{labs.map(l => <text key={l[0] as string} x={l[1] as number} y={l[2] as number} fontSize={17} fontWeight="bold" fontFamily="'Liberation Sans', Arial, sans-serif">{l[0]}</text>)}</g>;
}

export default function App() {
  return (
    <svg width={787} height={1087} viewBox="0 0 787 1087" style={{ position: "absolute", left: 0, top: 0, display: "block" }} fontFamily={FONT}>
      <rect x={0} y={0} width={787} height={1087} fill="#fff" />
      <PanelA />
      <PanelB />
      <PanelC />
      <PanelD />
      <PanelAUC title="Training cohort" titleY={716} yTicks={aucTrainYTicks} yDom={[0.70, 0.90]} yRange={[843, 735]} axisDom={[0.692, 0.911]}
        lasso={aucLassoTrain} tmn={aucTmnTrain}
        lassoOff={[{ dx: -8, dy: -13, rot: 37 }, { dx: -23, dy: -20, rot: 0 }, { dx: -33, dy: -6, rot: 0 }]}
        tmnOff={[{ dx: -5, dy: -5, rot: 34 }, { dx: -23, dy: -27, rot: 0 }, { dx: -33, dy: -7, rot: 0 }]}
        legendY={729} tickY={860} timeY={874} aucX={38} />
      <PanelAUC title="Validation cohort" titleY={915} yTicks={aucValidYTicks} yDom={[0.73, 0.81]} yRange={[1031, 937]} axisDom={[0.7105, 0.8105]}
        lasso={aucLassoValid} tmn={aucTmnValid}
        lassoOff={[{ dx: 1, dy: -7, rot: 44 }, { dx: -13, dy: -16, rot: 0 }, { dx: -25, dy: -15, rot: 0 }]}
        tmnOff={[{ dx: -5, dy: 12, rot: 42 }, { dx: -36, dy: 19, rot: 0 }, { dx: -25, dy: 3, rot: 0 }]}
        legendY={933} tickY={1065} timeY={1079} aucX={41} />
      <PanelBox title="Training cohort" titleY={708} yDom={[-2, 4]} yRange={[848, 726]} axisTop={715} axisBottom={850} yTicks={riskTrainYTicks}
        g0={riskTrain0} g1={riskTrain1} boxes={boxTrain} testText="1.9e−08" testY={726} tickY={862} />
      <PanelBox title="Validation cohort" titleY={915} yDom={[1, 4]} yRange={[1029, 944]} axisTop={925} axisBottom={1052} yTicks={riskValidYTicks}
        g0={riskValid0} g1={riskValid1} boxes={boxValid} testText="0.0026" testY={941} tickY={1064} />
      <PanelKM title="Training cohort" titleY={707} x0={595} top={718} low={kmTrainLow} high={kmTrainHigh} median={kmTrainMedian}
        pText="< 0.0001" pY={758} legendY={799} legendX={597} tickY={860} timeY={874} />
      <PanelKM title="Validation cohort" titleY={907} x0={594} top={923} low={kmValidLow} high={kmValidHigh} median={kmValidMedian}
        pText="= 0.0038" pY={961} legendY={1004} legendX={600} tickY={1066} timeY={1080} />
      <PanelLabels />
    </svg>
  );
}
